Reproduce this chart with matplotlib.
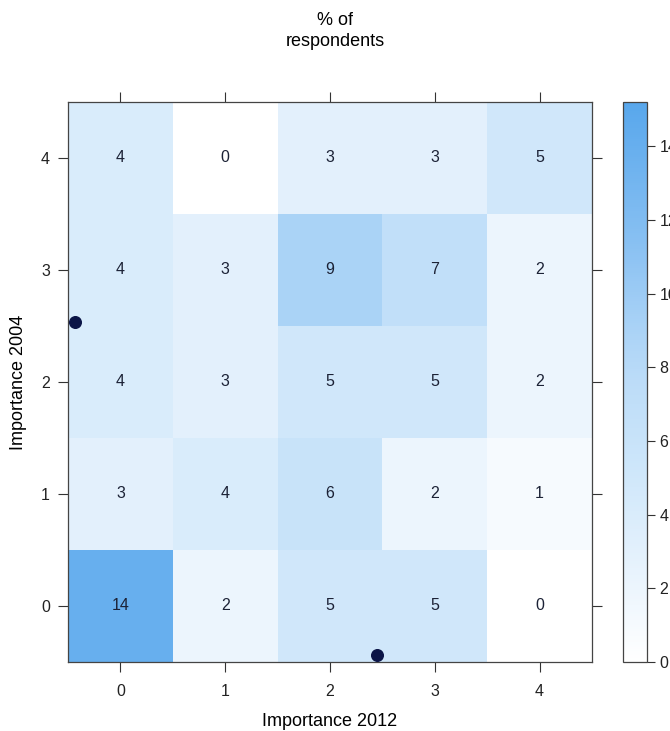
import numpy as np
import matplotlib
matplotlib.use("Agg")
import matplotlib.pyplot as plt
from matplotlib.colors import LinearSegmentedColormap

plt.rcParams['font.family'] = ['Liberation Sans', 'DejaVu Sans']

## dati ##
imp_2012 = [0, 1, 2, 3, 4]          # colonne
imp_2004 = [0, 1, 2, 3, 4]          # righe
# percentuali, riga = importanza 2004 (da 0 a 4), colonna = importanza 2012
pct = [
    [14, 2, 5, 5, 0],
    [3, 4, 6, 2, 1],
    [4, 3, 5, 5, 2],
    [4, 3, 9, 7, 2],
    [4, 0, 3, 3, 5],
]
# punti scuri sul bordo
dot_x = [-0.43, 2.45]
dot_y = [2.54, -0.44]
cbar_ticks = [0, 2, 4, 6, 8, 10, 12, 14]
vmax = 15.2

z = np.array(pct, dtype=float)

# scala di blu, piu chiara nella parte centrale come nell'originale
cmap = LinearSegmentedColormap.from_list("blu", [
    (0.0, "#ffffff"), (0.2, "#e2f0fc"), (0.35, "#cde6fa"),
    (0.5, "#bcdcf8"), (0.6, "#a9d2f6"), (0.75, "#88c0f2"), (1.0, "#58a7ec")])

fig = plt.figure(figsize=(6.7, 7.31), dpi=100)
ax = fig.add_axes([68/670, 1 - 662/731, (592-68)/670, (662-102)/731])
cax = fig.add_axes([623/670, 1 - 662/731, (647-623)/670, (662-102)/731])

xe = np.arange(len(imp_2012) + 1) - 0.5
ye = np.arange(len(imp_2004) + 1) - 0.5
mesh = ax.pcolormesh(xe, ye, z, cmap=cmap, vmin=0, vmax=vmax)

# numeri nelle celle
for i, r in enumerate(imp_2004):
    for j, c in enumerate(imp_2012):
        ax.text(c, r, str(pct[i][j]), ha="center", va="center",
                fontsize=11.5, color="#1c2236")

ax.scatter(dot_x, dot_y, s=70, color="#0b1547", zorder=5, clip_on=False)

ax.set_xlim(-0.5, 4.5)
ax.set_ylim(-0.5, 4.5)
ax.set_xticks(imp_2012)
ax.set_yticks(imp_2004)
ax.tick_params(direction="out", length=7, width=0.8, color="#333333",
               labelsize=11.5, top=True, right=True, labelcolor="#222222")
ax.tick_params(axis="x", pad=9)
ax.tick_params(axis="y", pad=6)
for s in ax.spines.values():
    s.set_color("#444444")
    s.set_linewidth(0.9)
ax.set_xlabel("Importance 2012", fontsize=13, labelpad=10)
ax.set_ylabel("Importance 2004", fontsize=13, labelpad=10)

# barra dei colori
cb = fig.colorbar(mesh, cax=cax, ticks=cbar_ticks)
cb.outline.set_edgecolor("#444444")
cb.outline.set_linewidth(0.9)
cax.tick_params(direction="out", length=6, width=0.8, labelsize=11.5,
                color="#333333", labelcolor="#222222", pad=3)

fig.text(0.5, 1 - 31/731, "% of\nrespondents", ha="center", va="center",
         fontsize=13, linespacing=1.3)

fig.savefig("out.png", dpi=100)
